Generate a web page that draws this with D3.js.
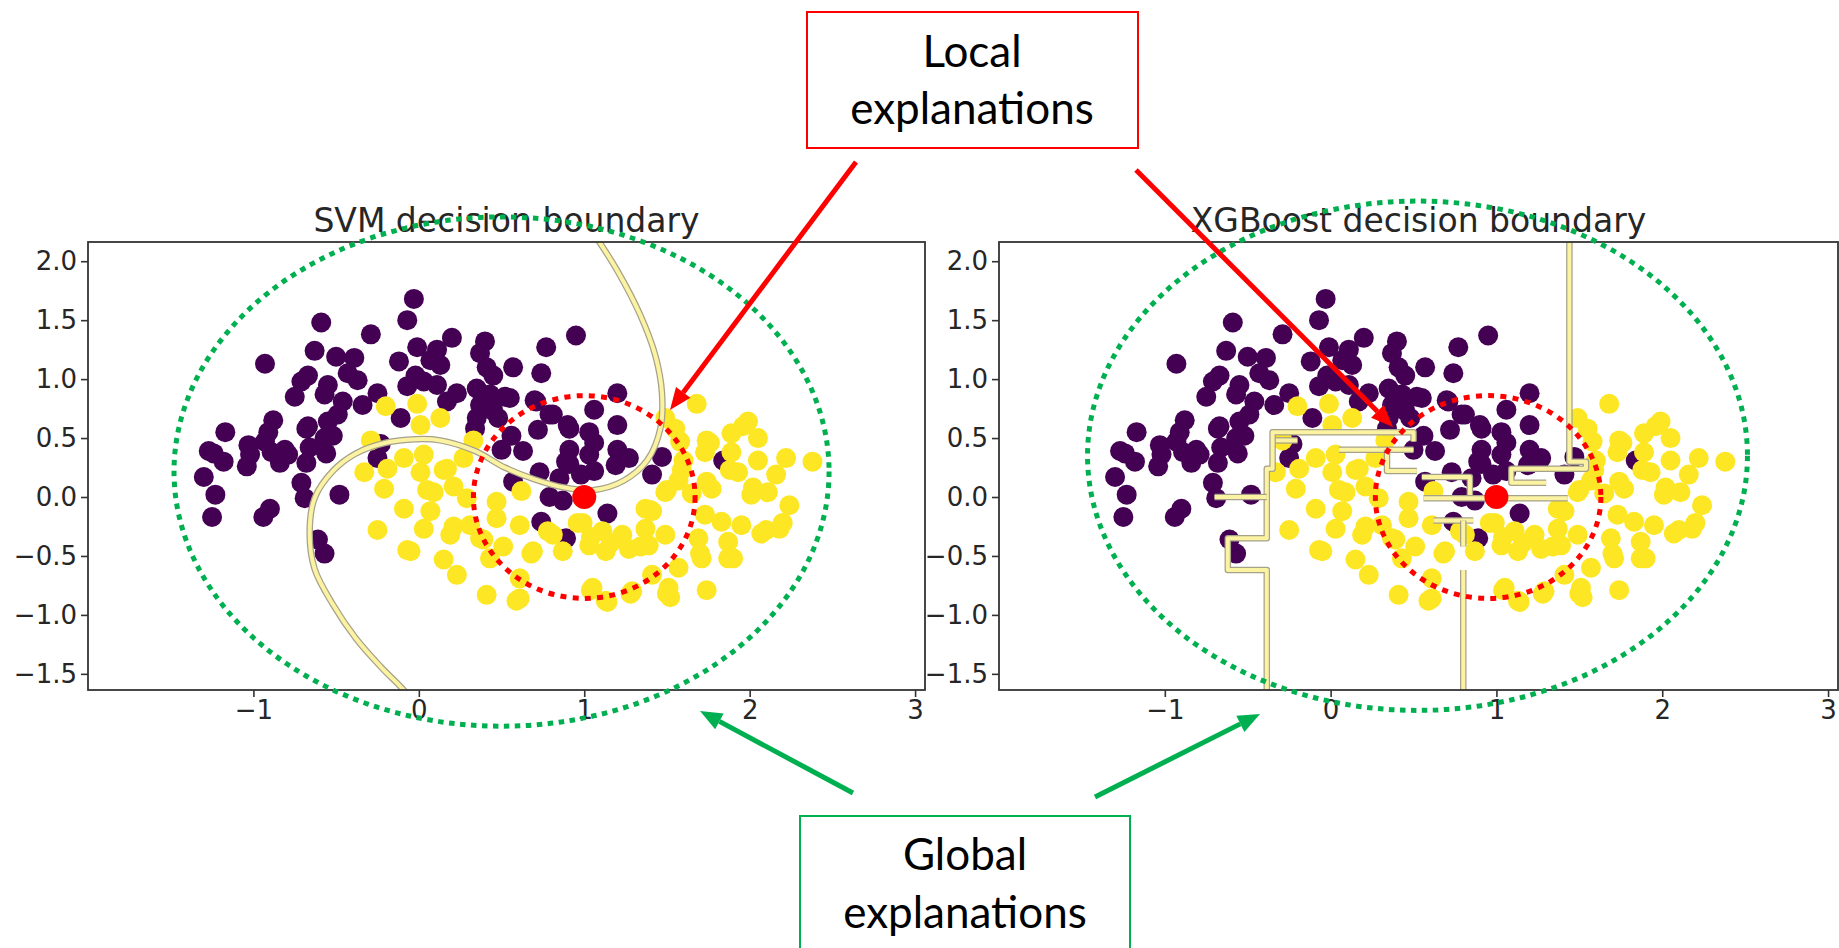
<!DOCTYPE html>
<html>
<head>
<meta charset="utf-8">
<script src="https://cdn.jsdelivr.net/npm/d3@7"></script>
<style>
  body { margin: 0; background: #fff; }
  svg { display: block; }
  .axis .tick text { font-family: "DejaVu Sans", sans-serif; font-size: 26px; fill: #262626; }
  .axis path, .axis line { stroke: #333; }
  .title { font-family: "DejaVu Sans", sans-serif; font-size: 33px; fill: #262626; }
  .note { font-family: Lato, "Open Sans", sans-serif; font-size: 44px; fill: #000; }
</style>
</head>
<body>
<div id="chart"></div>
<script>
// datos (make_moons): clase 0 morado, clase 1 amarillo
const class0 = [
  [-0.03,1.68],[-0.07,1.50],[-0.59,1.48],[-0.29,1.38],[0.95,1.37],[0.20,1.35],[0.40,1.32],[0.77,1.27],
  [-0.01,1.27],[0.11,1.25],[0.07,1.16],[0.13,1.12],[0.37,1.22],[-0.63,1.24],[-0.93,1.13],[-0.50,1.19],
  [-0.39,1.18],[-0.12,1.15],[0.57,1.10],[0.74,1.05],[0.41,1.10],[-0.67,1.03],[-0.71,0.98],[-0.55,0.95],
  [-0.43,1.05],[-0.37,0.99],[-0.02,1.03],[0.45,1.03],[-0.75,0.85],[-0.57,0.87],[-0.25,0.88],[-0.07,0.94],
  [0.03,0.98],[0.11,0.95],[0.23,0.88],[0.35,0.92],[0.43,0.87],[0.52,0.85],[1.20,0.88],[-0.46,0.81],
  [-0.34,0.78],[0.17,0.81],[0.70,0.82],[0.55,0.84],[0.71,0.81],[0.37,0.78],[0.45,0.73],[1.06,0.74],
  [0.79,0.70],[-0.88,0.65],[-0.67,0.60],[-0.55,0.64],[-0.49,0.70],[-0.11,0.67],[0.35,0.67],[0.48,0.67],
  [0.81,0.70],[0.90,0.61],[0.91,0.58],[1.20,0.61],[-1.17,0.55],[-0.91,0.55],[-0.68,0.58],[-0.52,0.52],
  [-0.57,0.50],[0.34,0.58],[0.56,0.52],[0.72,0.57],[1.03,0.55],[1.06,0.46],[-1.27,0.39],[-1.03,0.44],
  [-0.93,0.47],[-0.81,0.40],[-0.66,0.42],[-0.56,0.37],[-0.23,0.45],[0.50,0.40],[0.63,0.39],[0.91,0.40],
  [1.20,0.40],[1.47,0.34],[1.84,0.31],[-1.24,0.37],[-1.18,0.30],[-1.02,0.36],[-0.89,0.38],[-0.79,0.36],
  [-1.04,0.26],[-0.84,0.29],[-0.68,0.29],[-0.25,0.33],[-1.30,0.17],[-0.71,0.12],[0.89,0.30],[1.03,0.36],
  [1.19,0.27],[1.27,0.33],[0.91,0.28],[1.06,0.22],[0.73,0.21],[0.85,0.16],[0.98,0.19],[1.41,0.19],
  [0.57,0.13],[-1.23,0.02],[-0.69,-0.01],[-0.48,0.02],[0.79,0.00],[0.87,-0.03],[1.14,-0.14],[0.74,-0.21],
  [-1.25,-0.17],[-0.94,-0.17],[-0.90,-0.10],[-0.61,-0.36],[-0.57,-0.48],[0.89,-0.35]
];
const class1 = [
  [-0.20,0.77],[-0.01,0.79],[0.13,0.67],[0.01,0.61],[-0.29,0.48],[0.33,0.48],
  [1.68,0.79],[1.49,0.67],[1.55,0.58],[1.58,0.47],[1.74,0.48],[1.89,0.54],[1.99,0.64],[2.05,0.50],[1.96,0.60],[1.76,0.46],
  [-0.33,0.21],[-0.19,0.24],[-0.09,0.33],[0.01,0.21],[0.03,0.36],[0.17,0.24],[0.27,0.33],[0.15,0.23],
  [-0.21,0.07],[-0.09,-0.10],[0.09,0.04],[0.21,0.09],[0.07,-0.12],[0.29,-0.01],[0.47,-0.04],[0.05,0.06],
  [-0.25,-0.28],[0.03,-0.27],[0.19,-0.32],[0.31,-0.24],[-0.05,-0.46],[-0.07,-0.45],[0.15,-0.53],[0.23,-0.66],[0.41,-0.83],
  [0.43,-0.52],[0.37,-0.35],[0.47,-0.18],[0.21,-0.25],[0.39,-0.36],[0.51,-0.42],[0.68,-0.48],
  [1.59,0.23],[1.73,0.38],[1.89,0.38],[2.05,0.31],[2.22,0.33],[2.38,0.30],[1.93,0.21],[2.16,0.19],
  [1.74,0.13],[1.49,0.04],[1.50,0.06],[1.65,0.03],[1.77,0.07],[2.01,0.02],[2.11,0.04],[2.24,-0.07],
  [1.37,-0.10],[1.40,-0.11],[1.73,-0.15],[1.83,-0.21],[1.95,-0.24],[2.07,-0.31],[2.18,-0.27],[1.69,-0.35],
  [1.87,-0.38],[1.71,-0.52],[1.87,-0.52],[1.70,-0.48],[1.60,0.31],[1.57,0.14],[1.88,0.23],
  [0.62,0.05],[0.61,-0.24],[0.78,-0.29],[0.96,-0.22],[0.99,-0.22],[1.04,-0.34],[1.11,-0.29],[1.16,-0.39],
  [1.23,-0.32],[1.34,-0.42],[1.37,-0.27],[1.49,-0.32],[1.41,-0.12],[0.69,-0.46],[0.87,-0.46],[1.03,-0.41],
  [1.13,-0.46],[1.27,-0.44],[1.39,-0.41],[1.57,-0.60],[1.41,-0.66],[1.51,-0.77],[1.50,-0.82],[1.29,-0.80],
  [1.28,-0.82],[1.05,-0.77],[1.04,-0.79],[1.14,-0.89],[0.61,-0.86],[0.61,-0.69],[1.74,-0.79],[0.81,-0.32],
  [2.02,0.08],[2.20,-0.22],[2.10,-0.28],[1.90,-0.52],[1.52,-0.85],[1.13,-0.88],[0.59,-0.88]
];
// punto a explicar
const query = [[1.0, 0.0]];

// frontera SVM (curva suave)
const svmBoundary = [
  [1.05,2.25],[1.20,1.92],[1.34,1.54],[1.43,1.20],[1.47,0.88],[1.46,0.58],[1.38,0.31],[1.24,0.14],
  [1.06,0.06],[0.88,0.08],[0.70,0.15],[0.52,0.25],[0.34,0.39],[0.13,0.48],[-0.02,0.49],[-0.20,0.46],
  [-0.38,0.37],[-0.52,0.22],[-0.63,-0.01],[-0.66,-0.31],[-0.63,-0.61],[-0.52,-0.91],[-0.38,-1.20],
  [-0.23,-1.44],[-0.09,-1.64],[-0.05,-1.72]
];
// frontera XGBoost (tramos escalonados)
const xgbBoundary = [
  [[-0.385,-1.75],[-0.385,-0.62],[-0.62,-0.62],[-0.62,-0.35],[-0.385,-0.35],[-0.385,0.24],[-0.35,0.24],[-0.35,0.55],[0.50,0.55],[0.50,0.47]],
  [[-0.70,0.0],[-0.385,0.0]],
  [[-0.33,0.48],[-0.20,0.48]],
  [[0.05,0.40],[0.50,0.40]],
  [[0.34,0.40],[0.34,0.22],[0.52,0.22]],
  [[1.44,2.25],[1.44,0.30],[1.54,0.30],[1.54,0.24],[1.09,0.24],[1.09,0.12],[1.30,0.12]],
  [[0.55,0.17],[0.84,0.17],[0.84,0.00]],
  [[0.56,-0.01],[1.43,-0.01]],
  [[0.62,-0.20],[0.86,-0.20]],
  [[0.80,-0.20],[0.80,-0.42]],
  [[0.80,-0.62],[0.80,-1.75]]
];

const xTicks = [-1, 0, 1, 2, 3];
const yTicks = [-1.5, -1.0, -0.5, 0.0, 0.5, 1.0, 1.5, 2.0];
const titles = ["SVM decision boundary", "XGBoost decision boundary"];

const purple = "#440154", yellow = "#fde725", red = "#ff0000", green = "#00b050";

// medidas generales
const totalWidth = 1839, totalHeight = 948;
const plotTop = 242, plotHeight = 448;

const panels = [
  { title: titles[0], left: 88, width: 837, lines: [svmBoundary], curve: d3.curveCatmullRom,
    globalRing: [0.50, 0.216, 1.98, 2.16], localRing: [1.0, 0.0, 0.67, 0.86] },
  { title: titles[1], left: 999, width: 839, lines: xgbBoundary, curve: d3.curveLinear,
    globalRing: [0.524, 0.35, 1.99, 2.16], localRing: [0.95, 0.0, 0.68, 0.86] }
];

const svg = d3.select("#chart").append("svg")
  .attr("width", totalWidth).attr("height", totalHeight);
svg.append("rect").attr("width", totalWidth).attr("height", totalHeight).attr("fill", "#fff");

panels.forEach((p, i) => {
  const x = d3.scaleLinear().domain([-2.0, 3.06]).range([0, p.width]);
  const y = d3.scaleLinear().domain([-1.637, 2.163]).range([plotHeight, 0]);

  const g = svg.append("g").attr("transform", `translate(${p.left}, ${plotTop})`);

  g.append("clipPath").attr("id", "clip" + i)
    .append("rect").attr("width", p.width).attr("height", plotHeight);

  const inner = g.append("g").attr("clip-path", `url(#clip${i})`);

  // puntos de ambas clases
  inner.selectAll(".c0").data(class0).enter().append("circle")
    .attr("cx", d => x(d[0])).attr("cy", d => y(d[1])).attr("r", 10).attr("fill", purple);
  inner.selectAll(".c1").data(class1).enter().append("circle")
    .attr("cx", d => x(d[0])).attr("cy", d => y(d[1])).attr("r", 10).attr("fill", yellow);

  // frontera de decision
  const line = d3.line().x(d => x(d[0])).y(d => y(d[1])).curve(p.curve);
  p.lines.forEach(l => {
    inner.append("path").attr("d", line(l)).attr("fill", "none")
      .attr("stroke", "#a6a28a").attr("stroke-width", 6.5).attr("stroke-linejoin", "round");
    inner.append("path").attr("d", line(l)).attr("fill", "none")
      .attr("stroke", "#fcf3a2").attr("stroke-width", 4).attr("stroke-linejoin", "round");
  });

  inner.selectAll(".q").data(query).enter().append("circle")
    .attr("cx", d => x(d[0])).attr("cy", d => y(d[1])).attr("r", 12).attr("fill", red);

  // ejes
  g.append("g").attr("class", "axis").attr("transform", `translate(0, ${plotHeight})`)
    .call(d3.axisBottom(x).tickValues(xTicks).tickFormat(d3.format("d")).tickSize(7).tickPadding(4))
    .call(a => a.select(".domain").remove());
  g.append("g").attr("class", "axis")
    .call(d3.axisLeft(y).tickValues(yTicks).tickFormat(d3.format(".1f")).tickSize(7).tickPadding(4))
    .call(a => a.select(".domain").remove());
  g.selectAll(".axis line").attr("stroke-width", 1.6);

  g.append("rect").attr("width", p.width).attr("height", plotHeight)
    .attr("fill", "none").attr("stroke", "#333").attr("stroke-width", 1.8);

  g.append("text").attr("class", "title")
    .attr("x", p.width / 2).attr("y", -10).attr("text-anchor", "middle").text(p.title);

  // anillos punteados (global y local)
  const ring = (r, color, dash) => g.append("ellipse")
    .attr("cx", x(r[0])).attr("cy", y(r[1]))
    .attr("rx", x(r[0] + r[2]) - x(r[0])).attr("ry", y(r[1]) - y(r[1] + r[3]))
    .attr("fill", "none").attr("stroke", color).attr("stroke-width", 5)
    .attr("stroke-dasharray", dash);
  ring(p.globalRing, green, "5.5 5.5");
  ring(p.localRing, red, "6 6.3");
});

// cajas de anotacion
const notes = [
  { box: [807, 12, 331, 136], color: red, lines: ["Local", "explanations"], base: [67, 124], cx: 972 },
  { box: [800, 816, 330, 160], color: green, lines: ["Global", "explanations"], base: [870, 928], cx: 965 }
];
notes.forEach(n => {
  svg.append("rect").attr("x", n.box[0]).attr("y", n.box[1])
    .attr("width", n.box[2]).attr("height", n.box[3])
    .attr("fill", "#fff").attr("stroke", n.color).attr("stroke-width", 2);
  n.lines.forEach((t, k) => svg.append("text").attr("class", "note")
    .attr("x", n.cx).attr("y", n.base[k]).attr("text-anchor", "middle").text(t));
});

// flechas
const arrows = [
  { from: [856, 162], to: [670, 410], color: red },
  { from: [1136, 170], to: [1393, 427], color: red },
  { from: [853, 793], to: [700, 711], color: green },
  { from: [1095, 797], to: [1260, 714], color: green }
];
arrows.forEach(a => {
  const [x1, y1] = a.from, [x2, y2] = a.to;
  const ang = Math.atan2(y2 - y1, x2 - x1);
  const headLen = 22, headW = 9;
  const bx = x2 - headLen * Math.cos(ang), by = y2 - headLen * Math.sin(ang);
  svg.append("line").attr("x1", x1).attr("y1", y1).attr("x2", bx).attr("y2", by)
    .attr("stroke", a.color).attr("stroke-width", 5);
  const px = -Math.sin(ang) * headW, py = Math.cos(ang) * headW;
  svg.append("path").attr("d", `M${x2},${y2}L${bx + px},${by + py}L${bx - px},${by - py}Z`)
    .attr("fill", a.color);
});
</script>
</body>
</html>
